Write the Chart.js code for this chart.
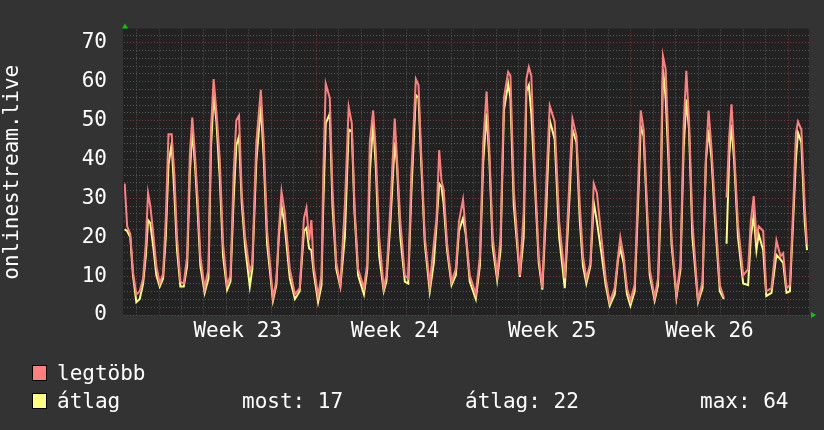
<!DOCTYPE html>
<html>
<head>
<meta charset="utf-8">
<script src="https://cdn.jsdelivr.net/npm/chart.js@4.4.1/dist/chart.umd.min.js"></script>
<style>
  html, body { margin: 0; padding: 0; background: #333333; }
  #wrap { position: relative; width: 824px; height: 430px; overflow: hidden; }
  #chart { position: absolute; left: 0; top: 0; }
  .lg { position: absolute; font: 21px/24px "DejaVu Sans Mono", monospace; color: #fff; white-space: pre; }
  .box { position: absolute; width: 13px; height: 14px; border: 1px solid #000; }
</style>
</head>
<body>
<div id="wrap">
  <canvas id="chart" width="824" height="430"></canvas>
  <div id="legend"></div>
</div>
<script>
// time in days from monday of week 23
const days = [
  -1.53, -1.42, -1.28, -1.16, -1.01, -0.86, -0.71, -0.59, -0.49, -0.39, -0.24, -0.12,
  0.03, 0.18, 0.30, 0.42, 0.56, 0.68, 0.80, 0.95,
  1.10, 1.25, 1.37, 1.48, 1.60, 1.72, 1.84,
  2.03, 2.20, 2.31, 2.43, 2.55, 2.70, 2.85,
  3.03, 3.18, 3.32, 3.44, 3.56, 3.68, 3.83,
  4.04, 4.15, 4.33, 4.53, 4.66, 4.81,
  5.07, 5.22, 5.33, 5.45, 5.59, 5.82,
  6.05, 6.26, 6.45, 6.56, 6.68, 6.78, 6.88,
  7.08, 7.23, 7.31, 7.42, 7.60, 7.72, 7.89,
  8.07, 8.27, 8.44, 8.58, 8.70, 8.86,
  9.12, 9.27, 9.38, 9.53, 9.65, 9.80,
  10.00, 10.12, 10.30, 10.49, 10.59, 10.74, 10.94,
  11.09, 11.23, 11.43, 11.55, 11.66, 11.83,
  12.05, 12.23, 12.35, 12.47, 12.57, 12.67, 12.82,
  13.02, 13.21, 13.35, 13.53, 13.65, 13.83,
  14.10, 14.28, 14.43, 14.58, 14.70, 14.85,
  15.05, 15.20, 15.35, 15.54, 15.64, 15.79,
  16.06, 16.23, 16.35, 16.46, 16.57, 16.72, 16.90,
  17.06, 17.24, 17.39, 17.61, 17.81,
  18.06, 18.28, 18.40, 18.58, 18.73, 18.87,
  19.02, 19.20, 19.35, 19.49, 19.69, 19.88,
  20.06, 20.28, 20.43, 20.53, 20.68, 20.83, 20.98,
  21.17, 21.32, 21.44, 21.57, 21.69, 21.84,
  22.06, 22.21, 22.32, 22.43, 22.55, 22.67, 22.81,
  23.03, 23.21, 23.35, 23.47, 23.59, 23.74, 23.99,
  24.19, 24.34, 24.46, 24.59, 24.74, 24.96,
  25.14, 25.20, 25.26, 25.38, 25.48, 25.60, 25.77,
  26.00, 26.22, 26.34, 26.47, 26.59, 26.69, 26.89,
  27.03, 27.26, 27.48, 27.66, 27.78, 27.93,
  28.08, 28.23, 28.35, 28.44, 28.59, 28.74, 28.84
];

const maxVals = [
  33.8, 22.8, 20.8, 11.0, 5.3, 6.1, 9.4, 18.3, 31.4, 28.1, 20.0, 12.6,
  8.1, 10.6, 24.9, 46.5, 46.5, 36.3, 20.0, 8.6,
  8.1, 15.1, 41.2, 50.8, 41.2, 29.7, 15.1,
  6.9, 11.8, 47.7, 60.7, 52.6, 40.3, 18.3,
  7.7, 10.2, 36.3, 50.1, 51.3, 31.4, 20.0,
  11.0, 13.4, 44.4, 57.9, 44.4, 21.6,
  4.5, 8.6, 21.6, 31.8, 26.5, 11.8,
  5.3, 6.9, 24.9, 27.5, 19.2, 24.4, 12.6,
  4.9, 10.2, 36.3, 59.5, 55.8, 32.2, 13.4,
  7.7, 28.1, 53.5, 49.3, 28.1, 11.8,
  6.9, 13.4, 44.4, 52.6, 42.0, 20.0,
  6.9, 10.2, 28.1, 50.5, 40.3, 24.0, 10.2,
  9.4, 36.3, 60.7, 59.1, 42.8, 20.0,
  7.7, 18.3, 24.9, 42.4, 34.6, 32.2, 18.3,
  8.6, 11.8, 24.0, 29.7, 21.6, 10.2,
  5.3, 15.1, 44.4, 57.5, 42.8, 20.0,
  10.2, 20.0, 55.8, 62.5, 61.5, 32.2,
  10.2, 26.5, 60.7, 63.8, 61.5, 37.9, 15.1,
  6.9, 34.6, 53.8, 49.7, 24.0,
  9.4, 36.3, 50.5, 46.0, 28.1, 15.1,
  9.4, 13.4, 33.8, 31.4, 20.0, 9.4,
  3.3, 6.9, 15.1, 20.0, 15.1, 6.9, 3.7,
  7.7, 33.0, 52.6, 47.7, 32.2, 11.8,
  4.5, 9.4, 32.2, 66.6, 63.2, 44.4, 20.0,
  5.3, 13.4, 48.5, 62.8, 50.1, 24.0, 3.7,
  8.6, 40.3, 52.6, 42.8, 28.1, 7.7,
  4.5, null, 30.2, 46.0, 54.2, 42.0, 23.2,
  10.2, 11.8, 24.0, 30.6, 20.0, 22.8, 21.6,
  6.1, 6.9, 19.2, 15.1, 15.9, 6.9,
  7.7, 28.1, 46.9, 49.7, 47.7, 28.1, 18.3
];

const avgVals = [
  22.0, 21.6, 20.0, 10.2, 3.3, 4.1, 8.1, 15.1, 24.4, 23.6, 16.7, 10.2,
  7.3, 9.4, 20.0, 38.7, 44.0, 31.4, 16.7, 7.3,
  7.3, 12.6, 36.3, 47.7, 38.7, 26.5, 12.6,
  5.7, 9.4, 42.8, 56.6, 50.1, 35.5, 15.1,
  6.5, 8.6, 29.7, 43.6, 46.0, 28.9, 17.5,
  7.3, 11.8, 39.5, 53.8, 40.3, 18.3,
  3.7, 7.7, 20.0, 28.1, 23.2, 9.4,
  4.1, 6.1, 21.6, 22.4, 17.1, 16.7, 11.0,
  3.3, 7.7, 28.1, 49.3, 51.8, 28.1, 11.8,
  7.3, 20.0, 47.7, 47.3, 26.5, 10.2,
  5.3, 11.8, 36.3, 49.7, 37.9, 15.1,
  6.1, 8.6, 24.0, 44.4, 38.7, 20.0, 8.6,
  8.1, 31.4, 56.6, 55.8, 40.3, 18.3,
  6.1, 13.4, 23.2, 33.8, 33.0, 28.5, 16.7,
  7.7, 10.2, 21.6, 24.9, 20.8, 8.6,
  4.1, 12.6, 39.5, 51.8, 40.3, 17.5,
  9.0, 16.7, 52.6, 59.5, 55.8, 28.1,
  9.8, 20.0, 57.5, 59.1, 51.8, 34.6, 13.4,
  6.5, 28.1, 50.1, 45.2, 20.0,
  6.9, 31.4, 47.7, 44.4, 24.0, 12.6,
  8.1, 12.6, 28.9, 24.0, 15.9, 7.7,
  2.4, 5.3, 14.3, 17.1, 13.4, 5.3, 2.4,
  6.1, 28.1, 48.5, 46.0, 29.7, 10.2,
  3.7, 7.7, 26.5, 63.2, 55.8, 40.3, 18.3,
  4.5, 11.8, 42.8, 55.4, 47.7, 20.0, 3.3,
  6.9, 39.5, 47.7, 40.3, 24.9, 6.1,
  4.1, null, 18.3, 41.2, 48.9, 39.5, 20.0,
  8.1, 7.7, 20.0, 25.7, 16.7, 20.8, 16.7,
  4.9, 5.7, 15.5, 14.3, 13.4, 5.7,
  6.1, 24.9, 40.3, 46.9, 44.4, 24.0, 16.7
];

const weekNames = ['Week 23', 'Week 24', 'Week 25', 'Week 26'];
const weekStarts = [0, 7, 14, 21];
const seriesNames = ['legtöbb', 'átlag'];
const statLabels = ['most', 'átlag', 'max'];
const statValues = [17, 22, 64];
const yLabels = [0, 10, 20, 30, 40, 50, 60, 70];

const RED = '#ff7f7f';
const YELLOW = '#ffff80';
const MINOR = '#595959';
const MAJOR = '#7d3838';
const FONT = { family: '"DejaVu Sans Mono", monospace', size: 21 };

// legend below the plot, rrdtool style
const legend = document.getElementById('legend');
legend.innerHTML =
  '<div class="box" style="left:32px;top:365px;background:' + RED + '"></div>' +
  '<div class="lg" style="left:57px;top:361px">' + seriesNames[0] + '</div>' +
  '<div class="box" style="left:32px;top:393px;background:' + YELLOW + '"></div>' +
  '<div class="lg" style="left:57px;top:389px">' + seriesNames[1] + '</div>' +
  '<div class="lg" style="left:242px;top:389px">' + statLabels[0] + ': ' + statValues[0] + '</div>' +
  '<div class="lg" style="left:465px;top:389px">' + statLabels[1] + ': ' + statValues[1] + '</div>' +
  '<div class="lg" style="left:700px;top:389px">' + statLabels[2] + ': ' + statValues[2] + '</div>';

const plotFrame = {
  id: 'plotFrame',
  beforeDraw(chart) {
    const { ctx, chartArea: a } = chart;
    ctx.save();
    ctx.fillStyle = '#222222';
    ctx.fillRect(a.left - 1, a.top - 1, a.right - a.left + 1, a.bottom - a.top + 1);
    ctx.restore();
  },
  afterDraw(chart) {
    const { ctx, chartArea: a } = chart;
    ctx.save();
    ctx.fillStyle = '#00cc00';
    // up arrow on the y axis
    ctx.beginPath();
    ctx.moveTo(a.left - 2, a.top - 1);
    ctx.lineTo(a.left + 4, a.top - 1);
    ctx.lineTo(a.left + 1, a.top - 6);
    ctx.closePath();
    ctx.fill();
    // right arrow on the x axis
    ctx.beginPath();
    ctx.moveTo(a.right + 2, a.bottom - 3);
    ctx.lineTo(a.right + 2, a.bottom + 3);
    ctx.lineTo(a.right + 7, a.bottom);
    ctx.closePath();
    ctx.fill();
    ctx.restore();
  }
};

const isWeekCenter = (v) => weekStarts.indexOf(v - 3.5) >= 0;

new Chart(document.getElementById('chart'), {
  type: 'line',
  data: {
    datasets: [
      {
        label: seriesNames[0],
        data: days.map((d, i) => ({ x: d, y: maxVals[i] })),
        borderColor: RED,
        borderWidth: 2,
      },
      {
        label: seriesNames[1],
        data: days.map((d, i) => ({ x: d, y: avgVals[i] })),
        borderColor: YELLOW,
        borderWidth: 2,
      },
    ],
  },
  options: {
    responsive: false,
    animation: false,
    spanGaps: false,
    elements: { point: { radius: 0 }, line: { tension: 0 } },
    layout: { padding: { left: 0, right: 15, top: 15, bottom: 85 } },
    plugins: { legend: { display: false }, tooltip: { enabled: false } },
    scales: {
      x: {
        type: 'linear',
        min: -1.56,
        max: 28.93,
        afterBuildTicks: (scale) => {
          const t = [];
          for (let d = -1; d <= 28; d++) t.push({ value: d });
          weekStarts.forEach((s) => t.push({ value: s + 3.5 }));
          t.sort((a, b) => a.value - b.value);
          scale.ticks = t;
        },
        afterFit: (scale) => { scale.height = 30; },
        ticks: {
          autoSkip: false,
          maxRotation: 0,
          padding: 4,
          color: '#ffffff',
          font: FONT,
          callback: (v) => {
            const i = weekStarts.indexOf(v - 3.5);
            return i >= 0 ? weekNames[i] : '';
          },
        },
        grid: {
          drawTicks: false,
          color: (ctx) => {
            const v = ctx.tick ? ctx.tick.value : 0;
            if (isWeekCenter(v)) return 'rgba(0,0,0,0)';
            return v % 7 === 0 ? MAJOR : MINOR;
          },
        },
        border: { display: false, dash: [1, 2] },
      },
      y: {
        min: 0,
        max: 73.4,
        afterBuildTicks: (scale) => {
          const t = [];
          for (let v = 0; v <= 72; v += 2) t.push({ value: v });
          scale.ticks = t;
        },
        afterFit: (scale) => { scale.width = 124; },
        ticks: {
          autoSkip: false,
          padding: 17,
          color: '#ffffff',
          font: FONT,
          callback: (v) => (yLabels.indexOf(v) >= 0 ? String(v) : ''),
        },
        grid: {
          drawTicks: false,
          color: (ctx) => (ctx.tick && ctx.tick.value % 10 === 0 ? MAJOR : MINOR),
        },
        border: { display: false, dash: [1, 2] },
        title: {
          display: true,
          text: 'onlinestream.live',
          color: '#ffffff',
          font: FONT,
          padding: 0,
        },
      },
    },
  },
  plugins: [plotFrame],
});
</script>
</body>
</html>
